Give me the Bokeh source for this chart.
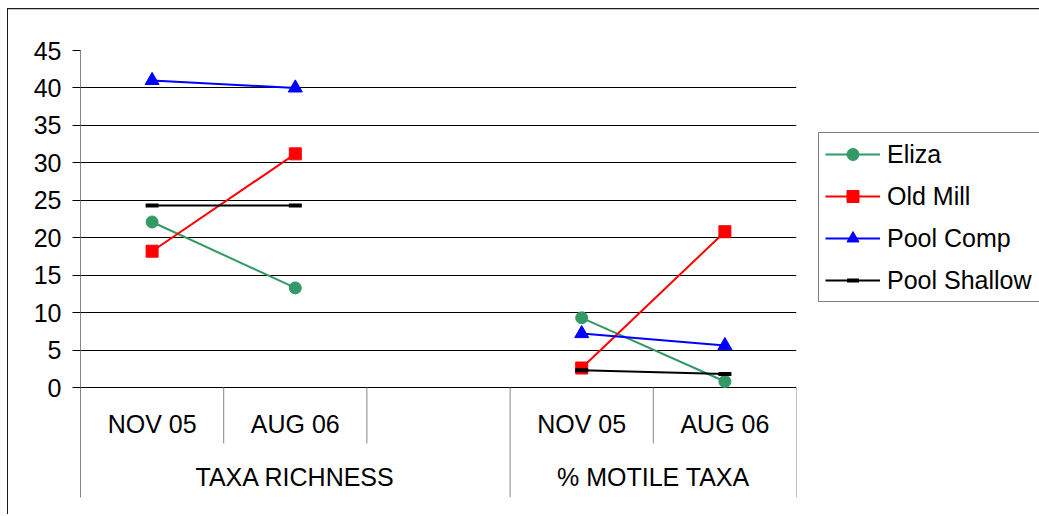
import math
from bokeh.plotting import figure
from bokeh.models import FactorRange, Range1d, FixedTicker, Legend, LegendItem
from bokeh.core.properties import value
from bokeh.embed import file_html
from bokeh.resources import INLINE

# ---------------- data ----------------
groups = ["TAXA RICHNESS", "% MOTILE TAXA"]
group_members = [["NOV 05", "AUG 06", " "], ["NOV 05", "AUG 06"]]
nan = float("nan")
eliza = [22.1, 13.3, nan, 9.3, 0.8]
old_mill = [18.2, 31.2, nan, 2.6, 20.8]
pool_comp = [41.0, 40.0, nan, 7.2, 5.6]
pool_shallow = [24.3, 24.3, nan, 2.3, 1.8]
series_names = ["Eliza", "Old Mill", "Pool Comp", "Pool Shallow"]
series_values = [eliza, old_mill, pool_comp, pool_shallow]
y_ticks = [0, 5, 10, 15, 20, 25, 30, 35, 40, 45]
grid_ticks = [0, 5, 10, 15, 20, 25, 30, 35, 40]

# ---------------- styles ----------------
series_colors = ["#339966", "#FF0000", "#0000FF", "#000000"]
series_markers = ["circle", "square", "triangle", "dash"]
marker_sizes = [12, 12, 14, 13]
marker_line_widths = [1, 1, 1, 4]
FONT = "Liberation Sans"
FS = "25px"

# layout (pixels); canvas placed at (8, 10) in the page
FRAME_W, FRAME_H = 716, 447
ML, MT, MR, MB = 72, 40, 243, 19
ZERO_PX = 337                    # px from frame top to value 0
PX = ZERO_PX / y_ticks[-1]
Y_MIN = -(FRAME_H - ZERO_PX) / PX
SUB_ROW = -36 / PX               # centre of first label row
GROUP_ROW = -89 / PX             # centre of group label row
SHORT_SEP = -56 / PX

factors = [(g, s) for g, subs in zip(groups, group_members) for s in subs]

p = figure(frame_width=FRAME_W, frame_height=FRAME_H,
           x_range=FactorRange(*factors, factor_padding=0, group_padding=0,
                               subgroup_padding=0, range_padding=0),
           y_range=Range1d(Y_MIN, y_ticks[-1]),
           output_backend="svg", toolbar_location=None,
           x_axis_location=None,
           min_border_left=ML, min_border_right=MR,
           min_border_top=MT, min_border_bottom=MB)
p.styles = {"margin-left": "8px", "margin-top": "10px",
            "box-shadow": "0px -1px 0px 0px #c8c8c8, -1px -2px 0px 0px #1a1a1a"}
p.outline_line_color = None
p.background_fill_color = "white"
p.border_fill_color = "white"
p.xgrid.visible = False

# y axis
ax = p.yaxis[0]
ax.ticker = FixedTicker(ticks=y_ticks)
ax.major_tick_in = 0
ax.major_tick_out = 8
ax.minor_tick_line_color = None
ax.axis_line_color = "#868686"
ax.major_tick_line_color = "#000000"
ax.major_label_text_font = FONT
ax.major_label_text_font_size = FS
ax.major_label_text_color = "#000000"
ax.major_label_standoff = 11

g = p.ygrid[0]
g.ticker = FixedTicker(ticks=grid_ticks)
g.grid_line_color = "#000000"
g.grid_line_width = 1

# category separators
sx, sy0, sy1 = [], [], []
for i, f in enumerate(factors):
    if i == 0:
        continue
    sx.append((f[0], f[1], -0.5))
    sy0.append(0)
    sy1.append(Y_MIN if f[0] != factors[i - 1][0] else SHORT_SEP)
last = factors[-1]
sx.append((last[0], last[1], 0.5))
sy0.append(0)
sy1.append(Y_MIN)
p.segment(x0=sx, x1=sx, y0=sy0, y1=sy1, line_color="#868686", line_width=1)

# category labels
lab = [f for f in factors if f[1].strip()]
p.text(x=lab, y=[SUB_ROW] * len(lab), text=[f[1] for f in lab],
       text_font=value(FONT), text_font_size=FS, text_color="#000000",
       text_align="center", text_baseline="middle")
p.text(x=groups, y=[GROUP_ROW] * len(groups), text=groups,
       text_font=value(FONT), text_font_size=FS, text_color="#000000",
       text_align="center", text_baseline="middle")

# series
items = []
for name, vals, col, mk, ms, mlw in zip(series_names, series_values, series_colors,
                                        series_markers, marker_sizes, marker_line_widths):
    lr = p.line(x=factors, y=vals, line_color=col, line_width=2)
    sr = p.scatter(x=factors, y=vals, marker=mk, size=ms, fill_color=col,
                   line_color=col, line_width=mlw)
    items.append(LegendItem(label=name, renderers=[lr, sr]))

legend = Legend(items=items, location=(22, 195))
legend.label_text_font = FONT
legend.label_text_font_size = FS
legend.label_text_color = "#000000"
legend.glyph_width = 55
legend.glyph_height = 30
legend.label_height = 30
legend.label_width = 156
legend.label_standoff = 7
legend.spacing = 12
legend.padding = 6
legend.margin = 0
legend.border_line_color = "#000000"
legend.border_line_width = 1
legend.background_fill_color = "white"
legend.background_fill_alpha = 1
p.add_layout(legend, "right")

open("out.html", "w").write(file_html(p, INLINE))
